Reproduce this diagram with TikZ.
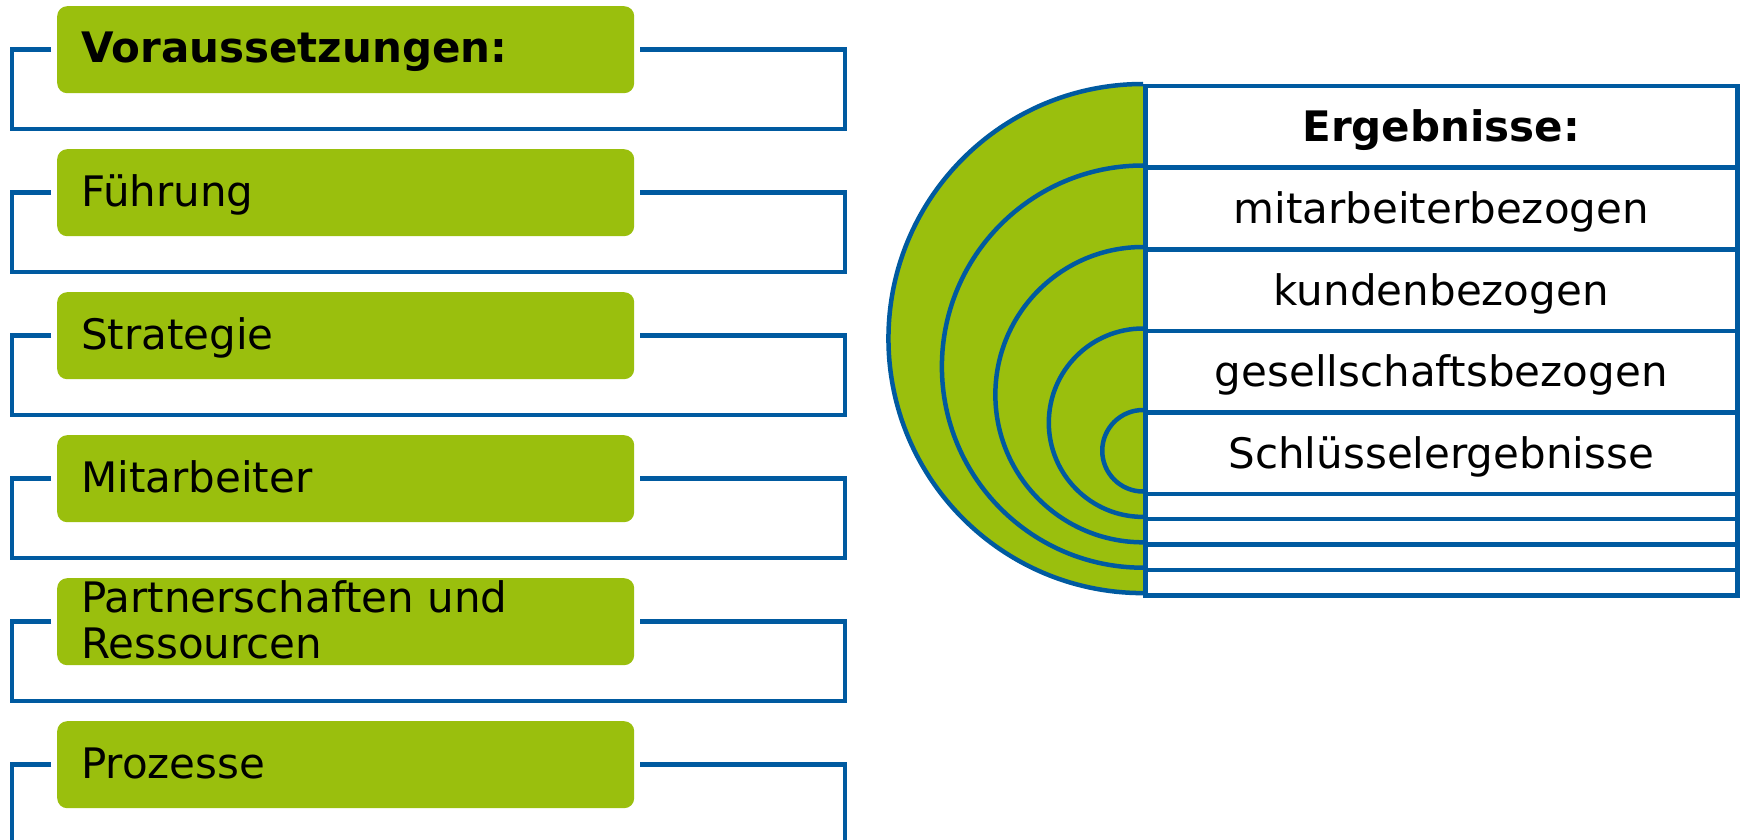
\documentclass[tikz,border=0pt]{standalone}
\usepackage{fontspec}
\setmainfont{DejaVu Sans}
\definecolor{lgreen}{RGB}{154,191,13}
\definecolor{eblue}{RGB}{0,90,160}
\tikzset{
  greenbox/.style={fill=lgreen, draw=none, rounded corners=10pt, minimum width=577pt, minimum height=87pt, anchor=north west, inner sep=0pt},
  lbl/.style={inner sep=0pt, font=\fontsize{42}{46}\selectfont, text=black},
  bracket/.style={draw=eblue, line width=4.5pt, line join=miter},
  bigcell/.style={draw=eblue, line width=4.5pt, minimum width=592pt, minimum height=81.5pt, anchor=north west, inner sep=0pt, font=\fontsize{42}{46}\selectfont, text height=30pt, text depth=0pt},
  smallcell/.style={draw=eblue, line width=4.5pt, minimum width=592pt, minimum height=25.4pt, anchor=north west, inner sep=0pt},
  arcline/.style={draw=eblue, line width=4.5pt},
}
\begin{document}
\begin{tikzpicture}[x=1pt,y=-1pt]
\clip (0,0) rectangle (1741,840);
% left column
\node[greenbox] (b0) at (57,6) {};
\node[lbl, anchor=base west] (t0) at (81,63) {\bfseries Voraussetzungen:};
\node[greenbox] (b1) at (57,149) {};
\node[lbl, anchor=base west] (t1) at (81,206) {Führung};
\node[greenbox] (b2) at (57,292) {};
\node[lbl, anchor=base west] (t2) at (81,349) {Strategie};
\node[greenbox] (b3) at (57,435) {};
\node[lbl, anchor=base west] (t3) at (81,492) {Mitarbeiter};
\node[greenbox] (b4) at (57,578) {};
\node[lbl, anchor=north west, align=left] (t4) at (81,580.5) {Partnerschaften und\\Ressourcen};
\node[greenbox] (b5) at (57,721) {};
\node[lbl, anchor=base west] (t5) at (81,778) {Prozesse};
\foreach \k in {0,...,5}{
  \draw[bracket] ([xshift=-6pt]b\k.west) -- ++(-39,0) -- ++(0,79.5) -- ++(833,0) -- ++(0,-79.5) -- ([xshift=6pt]b\k.east);
}
% right half-circles
\fill[lgreen] (1143,84) arc[start angle=90,end angle=270,radius=254.55pt] -- cycle;
\draw[arcline] (1143,84) arc[start angle=90,end angle=270,radius=254.55pt];
\draw[arcline] (1143,165.5) arc[start angle=90,end angle=270,radius=201.1pt];
\draw[arcline] (1143,247) arc[start angle=90,end angle=270,radius=147.65pt];
\draw[arcline] (1143,328.5) arc[start angle=90,end angle=270,radius=94.2pt];
\draw[arcline] (1143,410) arc[start angle=90,end angle=270,radius=40.75pt];
% table
\node[bigcell] (e0) at (1143,84) {\bfseries Ergebnisse:};
\node[bigcell] (e1) at (1143,165.5) {mitarbeiterbezogen};
\node[bigcell] (e2) at (1143,247) {kundenbezogen};
\node[bigcell] (e3) at (1143,328.5) {gesellschaftsbezogen};
\node[bigcell] (e4) at (1143,410) {Schlüsselergebnisse};
\node[smallcell] (f1) at (1143,491.5) {};
\node[smallcell] (f2) at (1143,516.9) {};
\node[smallcell] (f3) at (1143,542.3) {};
\node[smallcell] (f4) at (1143,567.7) {};
\end{tikzpicture}
\end{document}
